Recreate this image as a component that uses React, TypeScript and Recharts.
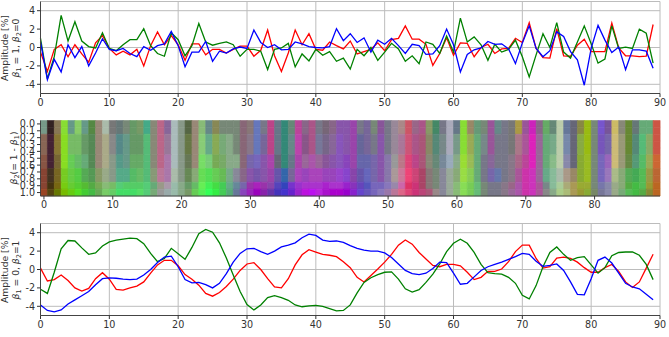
/**
 * Three stacked panels: amplitude at beta1=1, blend map over beta2, amplitude at beta2=1
 */
import React from 'react';
import { LineChart, Line, BarChart, Bar, Cell, XAxis, YAxis, CartesianGrid } from 'recharts';

const FONT = '"DejaVu Sans", sans-serif';
const INK = '#333333';
const FRAME = '#444444';

const xTicks = [0, 10, 20, 30, 40, 50, 60, 70, 80, 90];
const yTicks = [-4, -2, 0, 2, 4];
const rowLabels = ['0.0', '0.1', '0.2', '0.3', '0.4', '0.5', '0.6', '0.7', '0.8', '0.9', '1.0'];

const topRed = [-0.5, -2.6, -0.2, 0.3, -1.0, 0.3, -0.7, -1.6, 0.5, 1.3, -0.1, -0.8, -0.4, -0.8, -0.2, -2.0, 0.2, 1.7, 0.3, 1.3, 0.3, -1.4, 0.4, 0.4, -0.8, -0.2, -0.2, -0.6, -0.2, 0.15, 0.15, -0.95, -0.3, 1.9, -0.9, -2.6, -0.6, 1.9, 0.3, 1.5, -0.2, -0.3, 0.6, 0.2, -0.15, 0.7, -0.7, -0.45, -0.2, 0.5, -0.35, 0.85, 1.0, 2.35, 0.9, 0.9, 0.35, -1.95, -0.65, 1.05, -0.85, 0.5, 0.45, -1.0, 0.0, 0.35, -0.65, -0.15, -0.1, 1.0, 0.55, 2.7, -0.1, -1.1, -1.15, 2.05, -0.9, -0.95, 0.25, 0.9, -0.45, -0.45, -0.45, 2.65, -0.05, -0.9, -0.9, -1.0, -0.95, 2.5];
const topGreen = [1.0, -3.4, -1.0, 3.5, 0.7, 2.8, 0.7, 0.1, -0.05, 1.6, -0.1, -0.35, 0.3, 0.85, 0.85, 2.05, 0.2, -0.65, -0.95, 1.6, 0.85, -0.9, 0.2, 2.6, 0.6, 0.25, 0.45, 0.6, 0.3, -0.95, -0.2, -0.2, -0.4, -2.4, -0.2, -0.05, 0.45, -2.1, -0.7, -1.45, -0.2, -0.85, -0.45, -1.5, -1.15, -2.35, -0.2, -0.9, 0.0, -1.4, -0.5, 0.45, -0.15, -1.5, -0.9, -1.75, 0.6, 0.35, -0.65, 1.25, -0.5, 3.2, 0.6, 1.15, 0.3, -1.4, 0.35, -0.5, -0.2, 0.8, -1.0, -3.2, -0.8, 1.5, 0.0, 2.7, -0.5, -1.15, 0.6, 2.35, 0.4, -1.7, -1.25, 2.35, -0.1, 0.05, -0.1, 2.0, 1.55, -1.7];
const topBlue = [0.6, -3.5, -1.3, -2.65, 0.3, -1.1, 0.1, -2.0, -0.6, 0.95, -0.2, -0.35, -0.1, -0.65, -1.0, 0.1, -0.3, 0.2, 0.4, 1.75, 0.2, -2.1, -0.5, -0.5, 0.65, -1.5, -0.4, -0.6, -0.15, 0.05, -0.1, 1.9, 0.55, 0.0, 0.3, -0.25, -0.2, 0.6, 0.4, 0.1, 0.0, -0.05, 0.1, 2.05, 0.75, 1.5, 0.55, 1.05, -0.5, 0.8, 0.35, 1.0, 0.2, -0.65, 0.35, 0.2, -0.75, -0.7, 0.2, 2.0, 0.3, -2.65, -0.75, -0.25, -0.05, 0.65, 0.35, 0.4, -0.15, -1.75, 0.5, 2.35, -0.1, -1.0, -0.35, 1.7, 1.2, -0.45, -1.35, -4.1, -0.1, 2.4, 0.8, -0.55, 0.05, -2.4, -0.25, -0.25, -0.4, -2.25];

const bottomRed = [0.15, -1.25, -1.1, -0.6, -1.2, -2.0, -2.35, -2.05, -1.0, -0.35, -1.05, -2.15, -2.25, -2.0, -1.8, -1.35, -0.4, 0.5, 1.0, 1.0, 0.4, -0.55, -1.05, -1.7, -2.6, -2.9, -2.5, -1.85, -1.05, -0.1, 0.6, 0.75, 0.0, -1.0, -1.9, -2.0, -1.0, 0.5, 1.6, 2.15, 1.9, 1.65, 1.55, 1.4, 0.85, 0.2, -0.85, -1.35, -0.65, 0.05, 0.8, 1.65, 2.65, 3.2, 2.75, 1.85, 1.15, 0.45, 0.3, 0.55, 0.55, 0.4, -0.3, -1.1, -0.85, -0.2, -0.2, 0.05, 0.85, 1.95, 2.65, 2.65, 1.2, 0.15, 0.3, 1.25, 1.35, 1.2, 0.8, 0.2, -0.3, -0.3, 0.2, 0.55, -0.2, -1.35, -1.95, -1.35, 0.15, 1.65];
const bottomGreen = [-2.15, -2.6, -0.3, 2.25, 3.15, 3.1, 2.35, 1.65, 1.8, 2.55, 3.0, 3.2, 3.3, 3.4, 3.35, 2.8, 1.75, 0.85, 1.2, 2.3, 1.7, 1.1, 2.4, 3.9, 4.35, 4.05, 2.9, 1.25, -0.6, -2.4, -3.8, -4.4, -3.85, -3.05, -2.85, -3.05, -3.35, -3.85, -4.05, -3.95, -3.9, -4.0, -4.25, -4.5, -4.45, -3.85, -2.55, -1.4, -0.9, -0.55, -0.3, -0.25, -1.05, -2.1, -2.45, -2.2, -1.4, -0.5, 0.6, 1.95, 2.85, 3.3, 2.85, 1.85, 0.55, -0.35, -0.45, -0.5, -0.85, -1.5, -2.8, -3.2, -1.75, 0.3, 1.85, 2.45, 1.65, 1.0, 1.3, 1.4, 0.5, -0.4, 0.2, 1.5, 1.85, 1.9, 1.9, 1.55, 0.55, -1.1];
const bottomBlue = [-3.85, -4.45, -4.6, -4.4, -3.75, -3.3, -2.85, -2.4, -1.65, -1.0, -0.9, -0.95, -1.05, -1.1, -1.05, -0.6, 0.0, 0.75, 1.35, 1.45, 0.3, -1.1, -1.45, -1.4, -1.65, -2.0, -1.5, -0.45, 0.8, 1.75, 2.25, 2.3, 1.95, 1.65, 2.0, 2.45, 2.65, 2.9, 3.45, 3.85, 3.7, 3.2, 3.05, 3.1, 2.95, 2.6, 2.3, 2.1, 2.0, 2.0, 1.8, 1.3, 0.6, -0.1, -0.45, -0.55, -0.4, 0.1, 0.8, 0.75, -0.4, -1.6, -1.5, -0.8, -0.1, 0.3, 0.55, 0.8, 1.1, 1.4, 1.75, 1.65, 0.9, 0.35, 0.45, 0.6, -0.1, -1.35, -2.7, -2.75, -1.0, 1.0, 1.35, 0.7, -0.4, -1.5, -1.9, -2.1, -2.7, -3.3];

// colours, one list per group of rows, 90 columns each
const mapA = ('798 322 875 8d3 698 8c6 698 584 987 aba 777 677 787 696 796 4a8 887 b68 869 abb 898 564 987 8b7 688 885 787 787 787 867 ' +
  '877 67b 778 b48 678 387 687 b49 868 a58 778 767 868 85a 85a 94a 778 769 787 859 778 989 a88 c56 968 a58 896 486 778 aab ' +
  '678 8d3 986 697 787 959 688 778 777 a94 959 c2b 868 6a6 687 bca 679 667 884 9b1 787 75c 759 cb6 887 683 677 6a7 6a7 c54').split(' ');
const mapB = ('865 423 873 8d2 7b6 7b6 696 585 987 aa8 888 588 698 696 696 5b7 887 b68 979 abb 898 674 987 8c7 6a8 8a5 7a7 8a8 787 867 ' +
  '878 67b 769 b48 678 387 688 b4a 858 a58 779 768 869 85b 85a 94a 669 769 778 85a 778 989 a79 c57 a58 a57 886 587 788 aab ' +
  '798 8d3 9a5 6a7 788 959 778 778 777 a78 a59 d2b 969 6a7 7a8 bca 78a 667 8a4 9b1 787 75b 76a cb7 997 683 587 5b7 8a6 c54').split(' ');
const mapC = ('854 423 763 8d2 6c5 6b6 6a7 585 987 aa8 898 598 698 6a6 6a6 5b7 887 b68 a7a abb 898 675 987 7d6 7c7 7a5 7a6 8a8 8a8 867 ' +
  '76a 76b 85a a4a 667 387 678 a4a 969 a5a 969 859 85a 85b 84b 94a 66a 66a 76a 85a 87a 999 b78 d47 b48 a57 887 687 789 9ab ' +
  '8a8 9d3 9b5 6a7 778 869 778 778 878 a68 b49 d2b 969 6a7 8b8 bca 88a 667 8a3 9b2 787 76b 96b cb7 997 684 597 5b6 9a5 c63').split(' ');
const mapD = ('843 432 762 7c2 6c4 5c4 5a5 595 896 9a8 898 5a8 5a8 5b6 6b6 5b7 897 b79 a7a aba 898 685 8a7 6d5 5d5 6c5 6b5 7a8 889 868 ' +
  '85a 75a 85a 94a 65a 36a 769 a4b 94b a4b a4b 94b 94b 94c 84c 84a 65a 66b 76a 85a 87a a99 c79 e47 c47 a46 877 787 889 9a9 ' +
  '8a7 9d4 8c5 6a7 778 76a 67a 778 878 a59 c3a c3b 969 6a8 8b9 aba a98 986 8a3 9b2 787 76b 97b ab8 8a7 5a5 4a5 5b5 994 b63').split(' ');
const mapE = ('843 431 761 7c1 6c3 5c3 5b3 5a4 7a5 8b7 7b6 5c7 5c6 5c6 5c6 5c7 6a7 998 a9a 9ba 8a8 696 6b6 6e5 4e5 4d4 4c5 6a8 689 76a ' +
  '93a a2b 93a 84a 54b 34b 73c 93c a3c a3c a3c a2c a3c a3c 92c 83b 64b 55b 76b 76b 87b 98a c6a d36 c37 a46 877 787 889 9a9 ' +
  '8b7 8d5 7c5 6b7 787 778 778 878 968 a5a c3a c3b a59 788 8b9 ac9 aa7 a95 9a3 9a3 787 77a 88a 9a8 8a7 5a4 4b4 5b5 993 b62').split(' ');
const mapF = ('942 541 670 7b0 6c1 5d2 4c3 4b4 6a5 7c6 6c6 4d6 4d6 4d6 5d6 5c7 7a7 999 9aa 9ba 8a8 796 6c5 5e5 3f5 3e4 4c5 5a7 679 84b ' +
  '92b 90b 82a 63a 43b 43c 62c 92c b1d b1e b2d a1c a0c a0c 90c 82c 64c 65b 76b 87b 97a b79 d68 d47 c37 b47 a57 988 889 9a9 ' +
  '8b7 8d5 7c5 6b7 787 778 778 878 969 a5a c3a c3b a59 888 8a8 ac8 ab7 a95 993 8a3 786 779 88a 9a8 7a7 5b5 4b4 5a4 883 b62').split(' ');
const mapRows = [mapA, mapA, mapB, mapB, mapB, mapC, mapC, mapD, mapD, mapE, mapF];

const topData = topRed.map((red, i) => ({ i, red, green: topGreen[i], blue: topBlue[i] }));
const bottomData = bottomRed.map((red, i) => ({ i, red, green: bottomGreen[i], blue: bottomBlue[i] }));
const mapData = mapA.map((_, i) => {
  const row: Record<string, number> = { i };
  rowLabels.forEach((_l, r) => { row[`r${r}`] = 1; });
  return row;
});

const tickStyle = { fontSize: 9.6, fontFamily: FONT, fill: INK };
const axisStyle = { stroke: FRAME, strokeWidth: 1 };

const AmpLabel: React.FC<{ b1: string; b2: string; cy: number }> = ({ b1, b2, cy }) => (
  <g transform={`translate(8,${cy}) rotate(-90)`} fontFamily={FONT} fontSize={9.2} fill={INK} textAnchor="middle">
    <text x={0} y={0}>Amplitude [%]</text>
    <text x={0} y={10.5}>
      <tspan fontStyle="italic">β</tspan><tspan fontSize={6.6} dy={2}>1</tspan>
      <tspan dy={-2}> = {b1}, </tspan>
      <tspan fontStyle="italic">β</tspan><tspan fontSize={6.6} dy={2}>2</tspan>
      <tspan dy={-2}>={b2}</tspan>
    </text>
  </g>
);

const AmpPanel: React.FC<{ data: typeof topData; top: number; b1: string; b2: string }> = ({ data, top, b1, b2 }) => (
  <div style={{ position: 'absolute', left: 0, top }}>
    <LineChart width={669} height={114} data={data} margin={{ top: 1.5, right: 9, bottom: 0, left: 0 }}>
      <CartesianGrid stroke="#bcbcbc" strokeWidth={1} />
      <XAxis dataKey="i" type="number" domain={[0, 90]} ticks={xTicks} tick={tickStyle} tickSize={3.5} tickMargin={2} tickLine={{ stroke: INK }} axisLine={axisStyle} height={20.5} />
      <XAxis xAxisId="edge" dataKey="i" type="number" domain={[0, 90]} orientation="top" height={0} tick={false} tickLine={false} axisLine={axisStyle} />
      <YAxis domain={[-5, 5]} ticks={yTicks} tick={tickStyle} tickSize={3.5} tickMargin={2} tickLine={{ stroke: INK }} axisLine={axisStyle} width={40.5} />
      <YAxis yAxisId="edge" domain={[-5, 5]} orientation="right" width={0} tick={false} tickLine={false} axisLine={axisStyle} />
      <Line dataKey="red" stroke="#ff0000" strokeWidth={1.3} dot={false} isAnimationActive={false} />
      <Line dataKey="green" stroke="#008000" strokeWidth={1.3} dot={false} isAnimationActive={false} />
      <Line dataKey="blue" stroke="#0000ff" strokeWidth={1.3} dot={false} isAnimationActive={false} />
      <AmpLabel b1={b1} b2={b2} cy={48} />
    </LineChart>
  </div>
);

const App: React.FC = () => (
  <div style={{ position: 'absolute', left: 0, top: 0, width: 669, height: 337, background: '#fff', overflow: 'hidden' }}>
    <AmpPanel data={topData} top={0} b1="1" b2="0" />

    <div style={{ position: 'absolute', left: 0, top: 112 }}>
      <BarChart width={669} height={105} data={mapData} barCategoryGap={0} margin={{ top: 8.5, right: 9, bottom: 0, left: 0 }}>
        <XAxis dataKey="i" interval={9} tick={tickStyle} tickSize={3.5} tickMargin={2} tickLine={{ stroke: INK }} axisLine={axisStyle} height={21} />
        <XAxis xAxisId="edge" dataKey="i" orientation="top" height={0} tick={false} tickLine={false} axisLine={axisStyle} />
        <YAxis type="number" domain={[0, 11]} reversed ticks={rowLabels.map((_, r) => r + 0.5)} tickFormatter={(v: number) => rowLabels[Math.floor(v)]} interval={0} tick={tickStyle} tickSize={3.5} tickMargin={2} tickLine={{ stroke: INK }} axisLine={axisStyle} width={40.5} />
        <YAxis yAxisId="edge" domain={[0, 11]} orientation="right" width={0} tick={false} tickLine={false} axisLine={axisStyle} />
        {rowLabels.map((_, r) => (
          <Bar key={r} dataKey={`r${r}`} stackId="map" isAnimationActive={false}>
            {mapRows[r].map((hex, c) => (
              <Cell key={c} fill={`#${hex}`} stroke={`#${hex}`} strokeWidth={0.6} />
            ))}
          </Bar>
        ))}
        <g transform="translate(17,46) rotate(-90)" fontFamily={FONT} fontSize={9.2} fill={INK} textAnchor="middle">
          <text x={0} y={0}>
            <tspan fontStyle="italic">β</tspan><tspan fontSize={6.6} dy={2}>2</tspan>
            <tspan dy={-2}>(= 1 - </tspan>
            <tspan fontStyle="italic">β</tspan><tspan fontSize={6.6} dy={2}>1</tspan>
            <tspan dy={-2}>)</tspan>
          </text>
        </g>
      </BarChart>
    </div>

    <AmpPanel data={bottomData} top={221.5} b1="0" b2="1" />
  </div>
);

export default App;
